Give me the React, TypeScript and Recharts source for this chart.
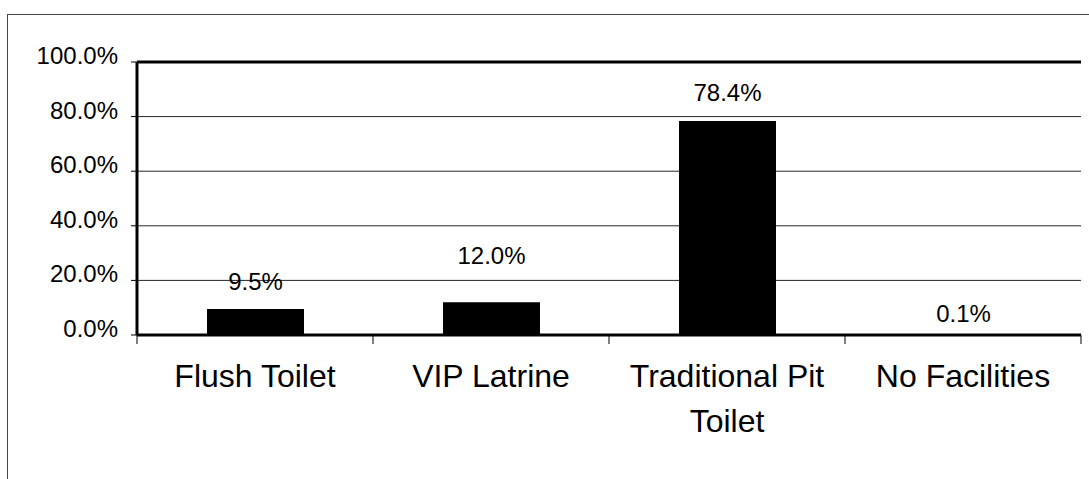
import React from "react";
import { BarChart, Bar, XAxis, YAxis, CartesianGrid, LabelList, ReferenceLine } from "recharts";

const categories = ["Flush Toilet", "VIP Latrine", "Traditional Pit Toilet", "No Facilities"];
const shares = [9.5, 12.0, 78.4, 0.1];
const yTicks = [0, 20, 40, 60, 80, 100];

const data = categories.map((name, i) => ({ name, value: shares[i] }));

// label lift above each bar (styling, px)
const labelLift = [28, 47, 29, 22];

const W = 1089;
const H = 479;
const M = { top: 62, right: 8, bottom: 0, left: 0 };
const X_H = 144;
const Y_W = 137;
const FONT = "'Liberation Sans', Arial, sans-serif";

const plotW = W - M.left - M.right - Y_W;
const bandW = plotW / categories.length;

const XTick = (props: any) => {
  const { x, y, payload, index } = props;
  const label: string = payload.value;
  let lines = [label];
  if (label.length > 14) {
    const parts = label.split(" ");
    lines = [parts.slice(0, -1).join(" "), parts[parts.length - 1]];
  }
  return (
    <g>
      <line x1={x - bandW / 2} x2={x - bandW / 2} y1={y} y2={y + 9} stroke="#000" strokeWidth={1} />
      {index === categories.length - 1 && (
        <line x1={x + bandW / 2} x2={x + bandW / 2} y1={y} y2={y + 9} stroke="#000" strokeWidth={1} />
      )}
      <text x={x} y={y + 52} textAnchor="middle" fontSize={32} fontFamily={FONT} fill="#000">
        {lines.map((l, i) => (
          <tspan key={i} x={x} dy={i === 0 ? 0 : 45}>
            {l}
          </tspan>
        ))}
      </text>
    </g>
  );
};

const YTick = (props: any) => {
  const { x, y, payload } = props;
  return (
    <text x={x} y={y + 2} textAnchor="end" fontSize={24} fontFamily={FONT} fill="#000">
      {`${Number(payload.value).toFixed(1)}%`}
    </text>
  );
};

const BarLabel = (props: any) => {
  const { x, y, width, index, value } = props;
  return (
    <text
      x={x + width / 2}
      y={y - labelLift[index] + 9}
      textAnchor="middle"
      fontSize={24}
      fontFamily={FONT}
      fill="#000"
    >
      {`${Number(value).toFixed(1)}%`}
    </text>
  );
};

export default function App() {
  return (
    <div style={{ position: "absolute", left: 0, top: 0, width: W, height: H, background: "#fff", overflow: "hidden" }}>
      <div
        style={{
          position: "absolute",
          left: 7,
          top: 14,
          width: W,
          height: H,
          borderTop: "1px solid #444",
          borderLeft: "1px solid #444",
        }}
      />
      <div style={{ position: "absolute", left: 0, top: 0 }}>
        <BarChart width={W} height={H} data={data} margin={M} barCategoryGap={0}>
          <CartesianGrid vertical={false} stroke="#000" strokeWidth={1} strokeOpacity={0.85} />
          <XAxis
            dataKey="name"
            axisLine={{ stroke: "#000", strokeWidth: 3 }}
            tickLine={false}
            tickSize={0}
            tickMargin={0}
            tick={<XTick />}
            interval={0}
            height={X_H}
          />
          <YAxis
            domain={[0, 100]}
            ticks={yTicks}
            width={Y_W}
            axisLine={{ stroke: "#000", strokeWidth: 3 }}
            tickLine={{ stroke: "#000", strokeWidth: 1 }}
            tickSize={6}
            tickMargin={13}
            tick={<YTick />}
            interval={0}
          />
          <YAxis
            yAxisId="right"
            orientation="right"
            domain={[0, 100]}
            width={0}
            tick={false}
            tickLine={false}
            axisLine={{ stroke: "#000", strokeWidth: 3 }}
          />
          <ReferenceLine y={100} stroke="#000" strokeWidth={3} />
          <Bar dataKey="value" fill="#000" barSize={97} isAnimationActive={false}>
            <LabelList dataKey="value" content={<BarLabel />} />
          </Bar>
        </BarChart>
      </div>
    </div>
  );
}
